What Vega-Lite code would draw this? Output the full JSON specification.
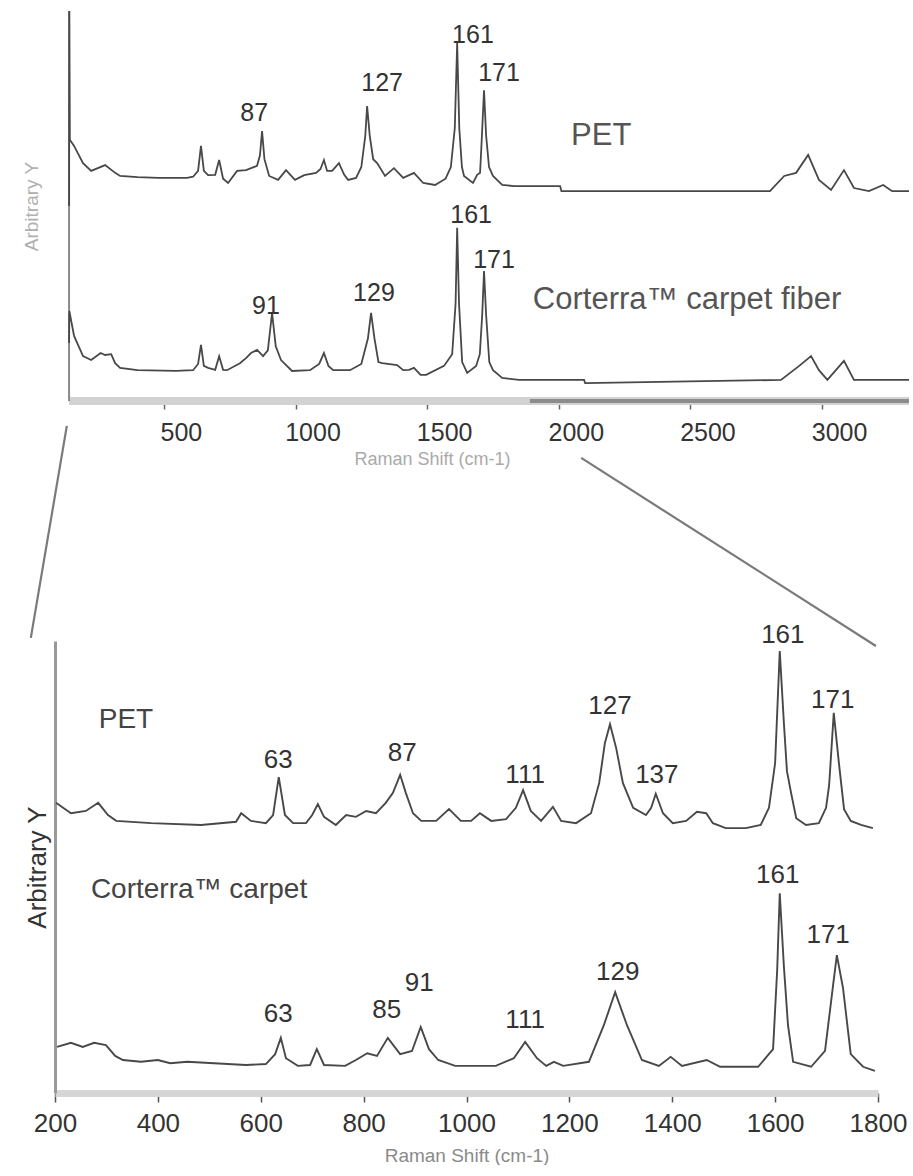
{
  "$schema": "https://vega.github.io/schema/vega-lite/v6.json",
  "background": "white",
  "padding": {"left": 22, "top": 7, "right": 0, "bottom": 0},
  "config": {"view": {"stroke": null}, "font": "Liberation Sans", "axis": {"grid": false}},
  "bounds": "flush",
  "spacing": 240,
  "datasets": {
    "topSpectra": [
      {"x":140,"y":50,"s":"PET"},{"x":141,"y":100,"s":"PET"},{"x":143,"y":67,"s":"PET"},{"x":159,"y":65.4,"s":"PET"},{"x":193,"y":61,"s":"PET"},{"x":224,"y":59,"s":"PET"},{"x":277,"y":60.5,"s":"PET"},{"x":315,"y":58.5,"s":"PET"},{"x":334,"y":57.7,"s":"PET"},{"x":400,"y":57.4,"s":"PET"},{"x":480,"y":57.2,"s":"PET"},{"x":546,"y":57.2,"s":"PET"},{"x":588,"y":57.2,"s":"PET"},{"x":611,"y":57.5,"s":"PET"},{"x":630,"y":59,"s":"PET"},{"x":641,"y":65.4,"s":"PET"},{"x":652,"y":59,"s":"PET"},{"x":668,"y":57.9,"s":"PET"},{"x":695,"y":58,"s":"PET"},{"x":710,"y":61.8,"s":"PET"},{"x":725,"y":57,"s":"PET"},{"x":744,"y":55.9,"s":"PET"},{"x":778,"y":59,"s":"PET"},{"x":812,"y":59.2,"s":"PET"},{"x":854,"y":60.3,"s":"PET"},{"x":865,"y":63,"s":"PET"},{"x":873,"y":69.2,"s":"PET"},{"x":882,"y":62,"s":"PET"},{"x":900,"y":57.7,"s":"PET"},{"x":934,"y":56.7,"s":"PET"},{"x":964,"y":59.2,"s":"PET"},{"x":998,"y":56.7,"s":"PET"},{"x":1033,"y":57.9,"s":"PET"},{"x":1078,"y":58.5,"s":"PET"},{"x":1095,"y":59.5,"s":"PET"},{"x":1108,"y":61.8,"s":"PET"},{"x":1120,"y":59,"s":"PET"},{"x":1139,"y":59,"s":"PET"},{"x":1165,"y":61,"s":"PET"},{"x":1185,"y":58,"s":"PET"},{"x":1200,"y":56.7,"s":"PET"},{"x":1230,"y":57.2,"s":"PET"},{"x":1250,"y":60,"s":"PET"},{"x":1265,"y":68,"s":"PET"},{"x":1272,"y":75.6,"s":"PET"},{"x":1282,"y":68,"s":"PET"},{"x":1295,"y":62,"s":"PET"},{"x":1310,"y":61,"s":"PET"},{"x":1340,"y":57.7,"s":"PET"},{"x":1374,"y":59.7,"s":"PET"},{"x":1409,"y":57.2,"s":"PET"},{"x":1450,"y":58.5,"s":"PET"},{"x":1485,"y":55.9,"s":"PET"},{"x":1530,"y":55.4,"s":"PET"},{"x":1570,"y":57,"s":"PET"},{"x":1590,"y":60,"s":"PET"},{"x":1605,"y":70,"s":"PET"},{"x":1614,"y":91.8,"s":"PET"},{"x":1622,"y":70,"s":"PET"},{"x":1632,"y":60,"s":"PET"},{"x":1640,"y":57.7,"s":"PET"},{"x":1674,"y":55.9,"s":"PET"},{"x":1690,"y":58,"s":"PET"},{"x":1701,"y":58.5,"s":"PET"},{"x":1708,"y":68,"s":"PET"},{"x":1716,"y":79.7,"s":"PET"},{"x":1724,"y":68,"s":"PET"},{"x":1735,"y":60,"s":"PET"},{"x":1750,"y":57.7,"s":"PET"},{"x":1785,"y":55.4,"s":"PET"},{"x":1830,"y":55.1,"s":"PET"},{"x":2005,"y":55.1,"s":"PET"},{"x":2010,"y":53.8,"s":"PET"},{"x":2802,"y":53.8,"s":"PET"},{"x":2856,"y":57.7,"s":"PET"},{"x":2901,"y":58.5,"s":"PET"},{"x":2947,"y":63.1,"s":"PET"},{"x":2988,"y":56.7,"s":"PET"},{"x":3034,"y":54.1,"s":"PET"},{"x":3083,"y":59.2,"s":"PET"},{"x":3121,"y":54.6,"s":"PET"},{"x":3178,"y":53.8,"s":"PET"},{"x":3232,"y":55.4,"s":"PET"},{"x":3266,"y":53.8,"s":"PET"},{"x":3330,"y":53.8,"s":"PET"},
      {"x":140,"y":14.9,"s":"C"},{"x":141,"y":23.1,"s":"C"},{"x":159,"y":16.7,"s":"C"},{"x":193,"y":11.5,"s":"C"},{"x":224,"y":10.5,"s":"C"},{"x":260,"y":12.3,"s":"C"},{"x":277,"y":11.8,"s":"C"},{"x":300,"y":12,"s":"C"},{"x":315,"y":9.7,"s":"C"},{"x":334,"y":8.5,"s":"C"},{"x":400,"y":7.9,"s":"C"},{"x":546,"y":7.7,"s":"C"},{"x":611,"y":7.9,"s":"C"},{"x":630,"y":9.5,"s":"C"},{"x":641,"y":14.4,"s":"C"},{"x":652,"y":9,"s":"C"},{"x":668,"y":8.5,"s":"C"},{"x":695,"y":8,"s":"C"},{"x":710,"y":11.5,"s":"C"},{"x":725,"y":8,"s":"C"},{"x":740,"y":7.9,"s":"C"},{"x":789,"y":9.7,"s":"C"},{"x":812,"y":11,"s":"C"},{"x":831,"y":12.3,"s":"C"},{"x":854,"y":13.1,"s":"C"},{"x":877,"y":11.5,"s":"C"},{"x":895,"y":13,"s":"C"},{"x":911,"y":22.6,"s":"C"},{"x":925,"y":14,"s":"C"},{"x":945,"y":10.5,"s":"C"},{"x":987,"y":7.7,"s":"C"},{"x":1055,"y":7.9,"s":"C"},{"x":1090,"y":9.5,"s":"C"},{"x":1108,"y":12.3,"s":"C"},{"x":1125,"y":9,"s":"C"},{"x":1143,"y":7.9,"s":"C"},{"x":1207,"y":7.9,"s":"C"},{"x":1250,"y":9.5,"s":"C"},{"x":1275,"y":16,"s":"C"},{"x":1287,"y":22.6,"s":"C"},{"x":1300,"y":16,"s":"C"},{"x":1315,"y":10,"s":"C"},{"x":1329,"y":9.7,"s":"C"},{"x":1386,"y":9.2,"s":"C"},{"x":1409,"y":7.9,"s":"C"},{"x":1431,"y":8,"s":"C"},{"x":1450,"y":8.5,"s":"C"},{"x":1475,"y":6.7,"s":"C"},{"x":1496,"y":6.7,"s":"C"},{"x":1564,"y":9,"s":"C"},{"x":1595,"y":12,"s":"C"},{"x":1608,"y":25,"s":"C"},{"x":1614,"y":44.4,"s":"C"},{"x":1621,"y":25,"s":"C"},{"x":1633,"y":10,"s":"C"},{"x":1652,"y":7.2,"s":"C"},{"x":1686,"y":9,"s":"C"},{"x":1700,"y":12,"s":"C"},{"x":1709,"y":22,"s":"C"},{"x":1716,"y":33.3,"s":"C"},{"x":1724,"y":22,"s":"C"},{"x":1736,"y":10,"s":"C"},{"x":1750,"y":7.9,"s":"C"},{"x":1785,"y":5.9,"s":"C"},{"x":1849,"y":5.4,"s":"C"},{"x":2096,"y":5.4,"s":"C"},{"x":2100,"y":4.6,"s":"C"},{"x":2844,"y":5.4,"s":"C"},{"x":2913,"y":9,"s":"C"},{"x":2958,"y":11.5,"s":"C"},{"x":2988,"y":7.9,"s":"C"},{"x":3020,"y":5.4,"s":"C"},{"x":3083,"y":10.3,"s":"C"},{"x":3121,"y":5.4,"s":"C"},{"x":3330,"y":5.4,"s":"C"}
    ],
    "bottomSpectra": [
      {"x":202,"y":64.2,"s":"PET"},{"x":231,"y":61.9,"s":"PET"},{"x":260,"y":62.4,"s":"PET"},{"x":284,"y":64.2,"s":"PET"},{"x":303,"y":61.5,"s":"PET"},{"x":319,"y":60.2,"s":"PET"},{"x":387,"y":59.7,"s":"PET"},{"x":484,"y":59.3,"s":"PET"},{"x":552,"y":60.0,"s":"PET"},{"x":562,"y":61.9,"s":"PET"},{"x":581,"y":60.2,"s":"PET"},{"x":610,"y":59.7,"s":"PET"},{"x":624,"y":61.5,"s":"PET"},{"x":635,"y":69.9,"s":"PET"},{"x":647,"y":61.5,"s":"PET"},{"x":663,"y":59.7,"s":"PET"},{"x":688,"y":59.7,"s":"PET"},{"x":700,"y":61.5,"s":"PET"},{"x":711,"y":63.9,"s":"PET"},{"x":723,"y":61.1,"s":"PET"},{"x":746,"y":59.3,"s":"PET"},{"x":766,"y":61.5,"s":"PET"},{"x":785,"y":61.1,"s":"PET"},{"x":805,"y":62.4,"s":"PET"},{"x":824,"y":61.9,"s":"PET"},{"x":843,"y":64.2,"s":"PET"},{"x":857,"y":66.4,"s":"PET"},{"x":871,"y":70.4,"s":"PET"},{"x":882,"y":66.4,"s":"PET"},{"x":896,"y":61.9,"s":"PET"},{"x":912,"y":60.2,"s":"PET"},{"x":941,"y":60.2,"s":"PET"},{"x":966,"y":62.8,"s":"PET"},{"x":989,"y":60.2,"s":"PET"},{"x":1009,"y":60.2,"s":"PET"},{"x":1026,"y":61.9,"s":"PET"},{"x":1048,"y":60.2,"s":"PET"},{"x":1077,"y":60.6,"s":"PET"},{"x":1096,"y":63.1,"s":"PET"},{"x":1110,"y":67.0,"s":"PET"},{"x":1125,"y":62.4,"s":"PET"},{"x":1145,"y":60.2,"s":"PET"},{"x":1168,"y":63.3,"s":"PET"},{"x":1184,"y":60.2,"s":"PET"},{"x":1213,"y":59.7,"s":"PET"},{"x":1242,"y":61.9,"s":"PET"},{"x":1258,"y":68.6,"s":"PET"},{"x":1269,"y":77.4,"s":"PET"},{"x":1279,"y":81.6,"s":"PET"},{"x":1291,"y":76.3,"s":"PET"},{"x":1304,"y":68.6,"s":"PET"},{"x":1324,"y":63.1,"s":"PET"},{"x":1349,"y":61.5,"s":"PET"},{"x":1359,"y":63.1,"s":"PET"},{"x":1368,"y":66.2,"s":"PET"},{"x":1382,"y":61.9,"s":"PET"},{"x":1401,"y":59.7,"s":"PET"},{"x":1427,"y":60.2,"s":"PET"},{"x":1448,"y":62.2,"s":"PET"},{"x":1466,"y":61.9,"s":"PET"},{"x":1479,"y":59.7,"s":"PET"},{"x":1504,"y":58.6,"s":"PET"},{"x":1543,"y":58.6,"s":"PET"},{"x":1572,"y":59.3,"s":"PET"},{"x":1588,"y":63.1,"s":"PET"},{"x":1600,"y":73.0,"s":"PET"},{"x":1609,"y":97.8,"s":"PET"},{"x":1617,"y":81.9,"s":"PET"},{"x":1623,"y":71.2,"s":"PET"},{"x":1631,"y":66.4,"s":"PET"},{"x":1641,"y":60.8,"s":"PET"},{"x":1660,"y":59.3,"s":"PET"},{"x":1685,"y":59.7,"s":"PET"},{"x":1699,"y":63.1,"s":"PET"},{"x":1705,"y":68.1,"s":"PET"},{"x":1714,"y":84.1,"s":"PET"},{"x":1724,"y":73.0,"s":"PET"},{"x":1734,"y":62.8,"s":"PET"},{"x":1747,"y":60.2,"s":"PET"},{"x":1767,"y":59.3,"s":"PET"},{"x":1790,"y":58.6,"s":"PET"},
      {"x":204,"y":10.2,"s":"C"},{"x":231,"y":11.1,"s":"C"},{"x":254,"y":10.2,"s":"C"},{"x":276,"y":11.1,"s":"C"},{"x":299,"y":10.6,"s":"C"},{"x":317,"y":8.2,"s":"C"},{"x":332,"y":7.3,"s":"C"},{"x":367,"y":6.9,"s":"C"},{"x":400,"y":7.3,"s":"C"},{"x":424,"y":6.6,"s":"C"},{"x":457,"y":6.9,"s":"C"},{"x":571,"y":6.2,"s":"C"},{"x":610,"y":6.4,"s":"C"},{"x":628,"y":8.6,"s":"C"},{"x":639,"y":12.2,"s":"C"},{"x":649,"y":7.7,"s":"C"},{"x":672,"y":6.0,"s":"C"},{"x":696,"y":6.2,"s":"C"},{"x":709,"y":9.7,"s":"C"},{"x":723,"y":6.2,"s":"C"},{"x":764,"y":6.0,"s":"C"},{"x":785,"y":7.3,"s":"C"},{"x":807,"y":8.8,"s":"C"},{"x":826,"y":8.2,"s":"C"},{"x":847,"y":12.2,"s":"C"},{"x":871,"y":8.6,"s":"C"},{"x":894,"y":9.3,"s":"C"},{"x":911,"y":14.6,"s":"C"},{"x":927,"y":9.7,"s":"C"},{"x":945,"y":7.3,"s":"C"},{"x":978,"y":6.0,"s":"C"},{"x":1057,"y":6.0,"s":"C"},{"x":1092,"y":7.7,"s":"C"},{"x":1114,"y":11.3,"s":"C"},{"x":1137,"y":7.7,"s":"C"},{"x":1155,"y":6.0,"s":"C"},{"x":1170,"y":6.9,"s":"C"},{"x":1188,"y":6.0,"s":"C"},{"x":1238,"y":6.9,"s":"C"},{"x":1267,"y":15.0,"s":"C"},{"x":1289,"y":22.3,"s":"C"},{"x":1312,"y":15.0,"s":"C"},{"x":1341,"y":7.3,"s":"C"},{"x":1374,"y":6.0,"s":"C"},{"x":1397,"y":8.0,"s":"C"},{"x":1419,"y":6.0,"s":"C"},{"x":1467,"y":7.3,"s":"C"},{"x":1493,"y":5.8,"s":"C"},{"x":1567,"y":5.8,"s":"C"},{"x":1596,"y":9.7,"s":"C"},{"x":1604,"y":27.2,"s":"C"},{"x":1609,"y":44.2,"s":"C"},{"x":1617,"y":28.1,"s":"C"},{"x":1625,"y":15.0,"s":"C"},{"x":1635,"y":6.9,"s":"C"},{"x":1670,"y":5.8,"s":"C"},{"x":1697,"y":9.3,"s":"C"},{"x":1712,"y":23.2,"s":"C"},{"x":1720,"y":30.5,"s":"C"},{"x":1732,"y":23.2,"s":"C"},{"x":1747,"y":8.6,"s":"C"},{"x":1771,"y":5.8,"s":"C"},{"x":1794,"y":4.9,"s":"C"}
    ]
  },
  "vconcat": [
    {
      "width": 854,
      "height": 390,
      "encoding": {
        "x": {"field": "x", "type": "quantitative",
          "scale": {"domain": [86.6, 3330], "nice": false, "zero": false},
          "axis": {"values": [500, 1000, 1500, 2000, 2500, 3000], "format": "d", "domain": false,
            "tickSize": 8, "tickColor": "#666666", "tickWidth": 1.5,
            "labelFontSize": 25, "labelColor": "#333333", "labelOffset": 17, "labelPadding": 11,
            "labelFlush": false, "labelOverlap": false,
            "title": "Raman Shift (cm-1)", "titleFontSize": 18, "titleFontWeight": "normal",
            "titleColor": "#aaaaaa", "titleX": 377, "titlePadding": 5}},
        "y": {"field": "y", "type": "quantitative",
          "scale": {"domain": [0, 100], "nice": false, "zero": false},
          "axis": {"domain": false, "ticks": false, "labels": false, "minExtent": 0,
            "title": "Arbitrary Y", "titleFontSize": 19, "titleFontWeight": "normal",
            "titleColor": "#b0b0b0", "titlePadding": 14}}
      },
      "layer": [
        {"data": {"values": [{"x": 140, "x2": 3330, "y": 0}]},
         "mark": {"type": "rule", "color": "#d3d3d3", "strokeWidth": 8},
         "encoding": {"x2": {"field": "x2"}}},
        {"data": {"values": [{"x": 1890, "x2": 3330, "y": 0}]},
         "mark": {"type": "rule", "color": "#8c8c8c", "strokeWidth": 4},
         "encoding": {"x2": {"field": "x2"}}},
        {"data": {"values": [{"x": 140, "y": 0, "y2": 100}]},
         "mark": {"type": "rule", "color": "#8a8a8a", "strokeWidth": 2},
         "encoding": {"y2": {"field": "y2"}}},
        {"data": {"name": "topSpectra"},
         "mark": {"type": "line", "color": "#484848", "strokeWidth": 1.8},
         "encoding": {"detail": {"field": "s"}}},
        {"data": {"values": [
            {"x": 843, "y": 73.8, "t": "87"}, {"x": 1329, "y": 81.5, "t": "127"},
            {"x": 1674, "y": 93.8, "t": "161"}, {"x": 1773, "y": 84.1, "t": "171"},
            {"x": 1667, "y": 47.7, "t": "161"}, {"x": 1754, "y": 36.2, "t": "171"},
            {"x": 1298, "y": 27.7, "t": "129"}, {"x": 888, "y": 24.4, "t": "91"}]},
         "mark": {"type": "text", "fontSize": 25, "color": "#333333", "align": "center", "baseline": "middle"},
         "encoding": {"text": {"field": "t"}}},
        {"data": {"values": [
            {"x": 2161, "y": 67.9, "t": "PET"},
            {"x": 2487, "y": 25.9, "t": "Corterra™ carpet fiber"}]},
         "mark": {"type": "text", "fontSize": 31, "color": "#555555", "align": "center", "baseline": "middle"},
         "encoding": {"text": {"field": "t"}}}
      ]
    },
    {
      "width": 823,
      "height": 452,
      "encoding": {
        "x": {"field": "x", "type": "quantitative",
          "scale": {"domain": [200, 1800], "nice": false, "zero": false},
          "axis": {"values": [200, 400, 600, 800, 1000, 1200, 1400, 1600, 1800], "format": "d",
            "domainColor": "#d6d6d6", "domainWidth": 7,
            "tickSize": 9, "tickColor": "#555555", "tickWidth": 1.5,
            "labelFontSize": 26, "labelColor": "#333333", "labelPadding": 8,
            "labelFlush": false, "labelOverlap": false,
            "title": "Raman Shift (cm-1)", "titleFontSize": 19, "titleFontWeight": "normal",
            "titleColor": "#8a8a8a", "titlePadding": 10}},
        "y": {"field": "y", "type": "quantitative",
          "scale": {"domain": [0, 100], "nice": false, "zero": false},
          "axis": {"domainColor": "#999999", "domainWidth": 3, "ticks": false, "labels": false, "minExtent": 0,
            "title": "Arbitrary Y", "titleFontSize": 26, "titleFontWeight": "normal",
            "titleColor": "#333333", "titlePadding": 5}}
      },
      "layer": [
        {"data": {"values": [
            {"x": 153, "y": 100.7, "g": "L"}, {"x": 223, "y": 147.6, "g": "L"},
            {"x": 1223, "y": 140.5, "g": "R"}, {"x": 1796, "y": 98.9, "g": "R"}]},
         "mark": {"type": "line", "color": "#7a7a7a", "strokeWidth": 2.2},
         "encoding": {"detail": {"field": "g"}}},
        {"data": {"name": "bottomSpectra"},
         "mark": {"type": "line", "color": "#484848", "strokeWidth": 1.9},
         "encoding": {"detail": {"field": "s"}}},
        {"data": {"values": [
            {"x": 634, "y": 73.7, "t": "63"}, {"x": 875, "y": 75.2, "t": "87"},
            {"x": 1114, "y": 70.4, "t": "111"}, {"x": 1279, "y": 85.6, "t": "127"},
            {"x": 1370, "y": 70.4, "t": "137"}, {"x": 1615, "y": 101.3, "t": "161"},
            {"x": 1712, "y": 86.9, "t": "171"},
            {"x": 634, "y": 17.5, "t": "63"}, {"x": 845, "y": 18.4, "t": "85"},
            {"x": 908, "y": 24.3, "t": "91"}, {"x": 1114, "y": 16.2, "t": "111"},
            {"x": 1294, "y": 26.8, "t": "129"}, {"x": 1605, "y": 48.2, "t": "161"},
            {"x": 1703, "y": 35.0, "t": "171"}]},
         "mark": {"type": "text", "fontSize": 26, "color": "#333333", "align": "center", "baseline": "middle"},
         "encoding": {"text": {"field": "t"}}},
        {"data": {"values": [
            {"x": 338, "y": 82.5, "t": "PET"},
            {"x": 480, "y": 44.9, "t": "Corterra™ carpet"}]},
         "mark": {"type": "text", "fontSize": 28, "color": "#444444", "align": "center", "baseline": "middle"},
         "encoding": {"text": {"field": "t"}}}
      ]
    }
  ]
}
